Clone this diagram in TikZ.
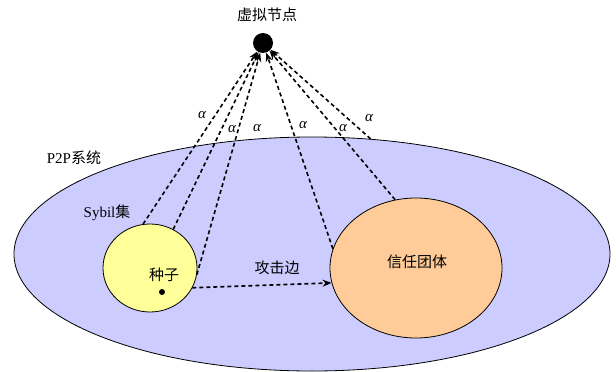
\documentclass[tikz,border=0pt]{standalone}
\usepackage{fontspec}
\setmainfont{Liberation Serif}
\newfontfamily\cjk{Noto Sans CJK SC}
\usetikzlibrary{shapes.geometric,arrows.meta}
\definecolor{sysblue}{HTML}{CCCCFF}
\definecolor{sybyel}{HTML}{FFFF99}
\definecolor{trustor}{HTML}{FFCC99}
\tikzset{
  region/.style={ellipse,draw=black,line width=0.8pt,inner sep=0pt},
  lbl/.style={font=\fontsize{15}{17}\selectfont, inner sep=0pt},
  alab/.style={font=\fontsize{15}{17}\selectfont\itshape, inner sep=0pt},
  link/.style={line width=1.6pt,dash pattern=on 4pt off 3pt,-{Stealth[length=9pt,width=7pt]}}
}
\begin{document}
\begin{tikzpicture}[x=1pt,y=-1pt]
\useasboundingbox (0,0) rectangle (616,372);
\node[region,fill=sysblue,minimum width=596pt,minimum height=234pt] (p2p) at (312,254) {};
\node[region,fill=sybyel,minimum width=94pt,minimum height=88pt] (sybil) at (150,268) {};
\node[region,fill=trustor,minimum width=172pt,minimum height=140pt] (trust) at (416,268) {};
\node[circle,fill=black,minimum size=20pt,inner sep=0pt] (vn) at (263,43) {};
\node[circle,fill=black,minimum size=6pt,inner sep=0pt] (seed) at (162,292) {};

\node[lbl] (tvn) at (267,15) {\cjk 虚拟节点};
\node[lbl] (tp2p) at (74,158) {P2P{\cjk 系统}};
\node[lbl] (tsyb) at (107,213) {Sybil{\cjk 集}};
\node[lbl] (tseed) at (164,275) {\cjk 种子};
\node[lbl] (tatk) at (277,268) {\cjk 攻击边};
\node[lbl] (ttrust) at (417,262) {\cjk 信任团体};

\node[alab] (a1) at (202,115) {α};
\node[alab] (a2) at (232,129) {α};
\node[alab] (a3) at (257,128) {α};
\node[alab] (a4) at (303,125) {α};
\node[alab] (a5) at (343,128) {α};
\node[alab] (a6) at (369,118) {α};

\draw[link] (sybil.99) -- (vn);
\draw[link] (sybil.59) -- (vn);
\draw[link] (sybil.-8) -- (vn);
\draw[link] (trust.167) -- (vn);
\draw[link] (trust.107) -- (vn);
\draw[link] (p2p.63.6) -- (vn);
\draw[link] (sybil.-25) -- (trust.190);
\end{tikzpicture}
\end{document}
